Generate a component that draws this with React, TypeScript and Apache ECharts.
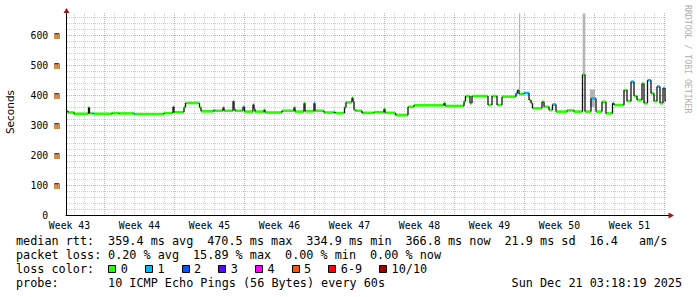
import React, { useEffect, useRef } from 'react';
import * as echarts from 'echarts';

// ---------- data ----------
const weekLabels = ['Week 43', 'Week 44', 'Week 45', 'Week 46', 'Week 47', 'Week 48', 'Week 49', 'Week 50', 'Week 51'];
const weekLabelDays = [0, 7, 14, 21, 28, 35, 42, 49, 56];

// days since left edge of the plot
const sampleDays = [
  0.0, 0.2, 0.8, 2.25, 2.35, 2.65, 2.75, 4.6, 5.3, 6.8, 6.9, 9.8, 10.7, 10.8, 11.8, 11.95, 13.35, 13.5,
  14.75, 14.9, 15.7, 15.8, 16.7, 16.8, 16.9, 17.7, 17.85, 18.7, 18.8, 18.9, 19.8, 19.9, 21.6, 22.8, 22.9,
  23.8, 23.9, 24.8, 24.9, 25.8, 26.8, 26.9, 27.85, 28.0, 28.6, 28.7, 28.8, 28.95, 29.6, 29.8, 30.8, 31.8,
  31.9, 32.95, 34.2, 34.8, 37.8, 37.9, 39.8, 39.95, 40.4, 40.6, 42.2, 42.6, 43.1, 43.6, 45.0, 45.15, 45.3,
  45.8, 46.3, 46.5, 46.65, 47.6, 47.8, 48.3, 48.65, 49.0, 50.1, 50.8, 51.65, 51.9, 52.5, 53.0, 53.6, 54.0,
  54.65, 54.8, 55.8, 56.1, 56.5, 56.8, 57.1, 57.6, 57.8, 58.15, 58.5, 58.8, 59.1, 59.4, 59.7, 59.9,
];
// median rtt in ms
const medianRtt = [
  348, 343, 339, 360, 340, 341, 339, 341, 340, 338, 338, 341, 362, 344, 360, 375, 360, 347,
  350, 349, 360, 349, 381, 355, 349, 362, 346, 370, 355, 346, 352, 343, 349, 360, 346,
  374, 347, 374, 349, 343, 345, 341, 360, 377, 392, 380, 352, 349, 341, 342, 344, 355,
  342, 334, 362, 367, 375, 365, 380, 398, 374, 398, 368, 398, 368, 396, 407, 418, 405,
  408, 385, 374, 357, 379, 362, 351, 370, 346, 350, 346, 470, 346, 390, 346, 379, 340,
  374, 368, 418, 381, 446, 398, 385, 440, 374, 451, 407, 381, 430, 374, 425, 381,
];
// loss bucket index (0 = no loss, 1 = 1 of 10 ...)
const lossBucket = [
  0, 0, 0, 0, 0, 1, 0, 0, 0, 1, 0, 0, 0, 0, 0, 0, 0, 0,
  1, 0, 0, 0, 0, 0, 0, 1, 0, 0, 0, 0, 0, 0, 0, 0, 0,
  0, 0, 1, 0, 0, 1, 0, 0, 0, 0, 0, 0, 0, 0, 0, 0, 0,
  0, 0, 0, 0, 0, 0, 0, 0, 0, 0, 0, 0, 0, 0, 1, 0, 0,
  1, 0, 0, 0, 0, 0, 0, 1, 0, 0, 0, 0, 0, 1, 0, 0, 0,
  1, 0, 0, 0, 1, 0, 0, 0, 0, 1, 0, 0, 1, 0, 1, 0,
];
const END_DAY = 60;

// outlier smoke (light grey)
const smokeStart = [45.3, 51.67, 52.4];
const smokeEnd = [45.42, 51.93, 52.9];
const smokeLow = [418, 470, 362];
const smokeHigh = [674, 674, 420];

// legend stats
const rttLabel = 'median rtt:';
const rttStats = ['359.4 ms avg', '470.5 ms max', '334.9 ms min', '366.8 ms now', '21.9 ms sd', '16.4', 'am/s'];
const rttCols = [13, 27, 41, 55, 69, 81, 88];
const lossLabel = 'packet loss:';
const lossStats = ['0.20 % avg', '15.89 % max', '0.00 % min', '0.00 % now'];
const lossCols = [13, 25, 38, 50];
const colorLabel = 'loss color:';
const lossNames = ['0', '1', '2', '3', '4', '5', '6-9', '10/10'];
const lossColors = ['#26ff00', '#00b8ff', '#0059ff', '#5e00ff', '#ff00ff', '#ff5500', '#ff0000', '#a10000'];
const probeLabel = 'probe:';
const probeText = '10 ICMP Echo Pings (56 Bytes) every 60s';
const stampText = 'Sun Dec 21 03:18:19 2025';
const watermark = 'RRDTOOL / TOBI OETIKER';
const yTitle = 'Seconds';

const Y_MAX = 676;
const yMajor = [100, 200, 300, 400, 500, 600];
const xMajor = [3.85, 10.85, 17.85, 24.85, 31.85, 38.85, 45.85, 52.85, 59.85];

const MONO = '"DejaVu Sans Mono", monospace';

export default function App() {
  const ref = useRef<HTMLDivElement>(null);
  useEffect(() => {
    if (!ref.current) return;
    const chart = echarts.init(ref.current, undefined, { renderer: 'svg' });

    const xMinor: number[] = [];
    for (let k = 0; k < 60; k++) {
      const d = 0.85 + k;
      if (!xMajor.some((m) => Math.abs(m - d) < 0.01)) xMinor.push(d);
    }
    const yMinor: number[] = [];
    for (let v = 20; v < Y_MAX; v += 20) if (v % 100 !== 0) yMinor.push(v);

    const gridData: number[][] = [
      ...xMinor.map((v) => [v, 0]),
      ...xMajor.map((v) => [v, 1]),
      ...yMinor.map((v) => [v, 2]),
      ...yMajor.map((v) => [v, 3]),
    ];

    const gridSeries = {
      type: 'custom',
      z: 1,
      silent: true,
      data: gridData,
      encode: { x: 0, y: 1 },
      renderItem: (params: any, api: any) => {
        const v = api.value(0);
        const k = api.value(1);
        const major = k === 1 || k === 3;
        const style = { stroke: major ? '#f0a0a0' : '#cfcfcf', lineWidth: 1, lineDash: [1, 1] };
        if (k < 2) {
          const p0 = api.coord([v, 0]);
          const p1 = api.coord([v, Y_MAX]);
          const x = Math.floor(p0[0]) + 0.5;
          return { type: 'line', shape: { x1: x, y1: p1[1], x2: x, y2: p0[1] }, style };
        }
        const p0 = api.coord([0, v]);
        const p1 = api.coord([END_DAY, v]);
        const y = Math.floor(p0[1]) + 0.5;
        return { type: 'line', shape: { x1: p0[0] + 1, y1: y, x2: p1[0], y2: y }, style };
      },
    };

    const smokeSeries = {
      type: 'custom',
      z: 2,
      silent: true,
      data: smokeStart.map((s, i) => [s, smokeLow[i], smokeEnd[i], smokeHigh[i]]),
      encode: { x: [0, 2], y: [1, 3] },
      renderItem: (params: any, api: any) => {
        const a = api.coord([api.value(0), api.value(3)]);
        const b = api.coord([api.value(2), api.value(1)]);
        return {
          type: 'rect',
          shape: { x: a[0], y: a[1], width: Math.max(1, b[0] - a[0]), height: b[1] - a[1] },
          style: { fill: '#b4b4b4' },
        };
      },
    };

    const medianSeries = {
      type: 'custom',
      z: 3,
      silent: true,
      data: sampleDays.map((t, i) => [t, medianRtt[i], lossBucket[i]]),
      encode: { x: 0, y: 1 },
      renderItem: (params: any, api: any) => {
        const i = params.dataIndex;
        const t0 = api.value(0);
        const m = api.value(1);
        const loss = api.value(2);
        const t1 = i + 1 < sampleDays.length ? sampleDays[i + 1] : END_DAY;
        const a = api.coord([t0, m]);
        const b = api.coord([t1, m]);
        const children: any[] = [
          {
            type: 'line',
            shape: { x1: a[0], y1: a[1], x2: b[0], y2: b[1] },
            style: { stroke: lossColors[loss], lineWidth: 2.6 },
          },
        ];
        if (i > 0) {
          const p = api.coord([t0, medianRtt[i - 1]]);
          children.push({
            type: 'line',
            shape: { x1: a[0], y1: p[1], x2: a[0], y2: a[1] },
            style: { stroke: '#151515', lineWidth: 1.3 },
          });
        }
        return { type: 'group', children };
      },
    };

    const CW = 7.08;
    const col = (c: number) => 16 + c * CW;
    const txt = (text: string, x: number, y: number, size = 11.8, family = MONO, fill = '#000') => ({
      type: 'text',
      z: 100,
      x,
      y,
      style: { text, fontSize: size, fontFamily: family, fill, textAlign: 'left', textVerticalAlign: 'middle' },
    });

    const graphics: any[] = [];
    // axis extensions and arrows
    graphics.push({ type: 'line', z: 100, shape: { x1: 666, y1: 215.5, x2: 669, y2: 215.5 }, style: { stroke: '#000', lineWidth: 1 } });
    graphics.push({ type: 'polygon', z: 100, shape: { points: [[668.5, 212.5], [668.5, 218.5], [674, 215.5]] }, style: { fill: '#a01818' } });
    graphics.push({ type: 'polygon', z: 100, shape: { points: [[63.5, 13], [69.5, 13], [66.5, 8]] }, style: { fill: '#a01818' } });

    // legend rows
    graphics.push(txt(rttLabel, col(0), 241));
    rttStats.forEach((s, i) => graphics.push(txt(s, col(rttCols[i]), 241)));
    graphics.push(txt(lossLabel, col(0), 255));
    lossStats.forEach((s, i) => graphics.push(txt(s, col(lossCols[i]), 255)));
    graphics.push(txt(colorLabel, col(0), 269));
    let sx = 108.3;
    lossNames.forEach((name, i) => {
      graphics.push({
        type: 'rect',
        z: 100,
        shape: { x: Math.round(sx) + 0.5, y: 265.5, width: 7, height: 7 },
        style: { fill: lossColors[i], stroke: '#000', lineWidth: 1 },
      });
      graphics.push(txt(name, sx + 12.4, 269));
      sx += 12.4 + name.length * CW + 17.2;
    });
    graphics.push(txt(probeLabel, col(0), 283));
    graphics.push(txt(probeText, col(13), 283));
    graphics.push(txt(stampText, col(70), 283));

    // y title
    graphics.push({
      type: 'text',
      z: 100,
      x: 10,
      y: 112,
      rotation: Math.PI / 2,
      style: { text: yTitle, fontSize: 10.5, fontFamily: '"DejaVu Sans", sans-serif', fill: '#000', textAlign: 'center', textVerticalAlign: 'middle' },
    });
    // watermark
    graphics.push({
      type: 'text',
      z: 100,
      x: 687.5,
      y: 5,
      rotation: -Math.PI / 2,
      style: { text: watermark, fontSize: 8.2, fontFamily: MONO, fill: '#b0b0b0', textAlign: 'left', textVerticalAlign: 'middle' },
    });

    chart.setOption({
      animation: false,
      backgroundColor: '#ffffff',
      grid: { left: 66, top: 13, width: 600, height: 202, containLabel: false },
      xAxis: {
        type: 'value',
        min: 0,
        max: END_DAY,
        interval: 7,
        z: 10,
        axisLine: { show: true, onZero: false, lineStyle: { color: '#000', width: 1 } },
        axisTick: { show: false },
        splitLine: { show: false },
        axisLabel: {
          showMaxLabel: false,
          formatter: (v: number) => {
            const i = weekLabelDays.indexOf(v);
            return i >= 0 ? weekLabels[i] : '';
          },
          fontFamily: MONO,
          fontSize: 9.8,
          color: '#000',
          margin: 5,
          padding: [0, 0, 0, 7],
        },
      },
      yAxis: {
        type: 'value',
        min: 0,
        max: Y_MAX,
        interval: 100,
        z: 10,
        axisLine: { show: true, lineStyle: { color: '#000', width: 1 } },
        axisTick: { show: false },
        splitLine: { show: false },
        axisLabel: {
          formatter: (v: number) => (v === 0 ? '{z|0}' : v % 100 === 0 ? `${v} m` : ''),
          rich: { z: { padding: [0, 11.8, 0, 0], fontFamily: MONO, fontSize: 9.8, color: '#000' } },
          fontFamily: MONO,
          fontSize: 9.8,
          color: '#000',
          margin: 6,
        },
      },
      series: [gridSeries, smokeSeries, medianSeries],
      graphic: graphics,
    } as any);

    return () => chart.dispose();
  }, []);

  return <div ref={ref} style={{ position: 'fixed', left: 0, top: 0, width: 697, height: 297, background: '#fff' }} />;
}
